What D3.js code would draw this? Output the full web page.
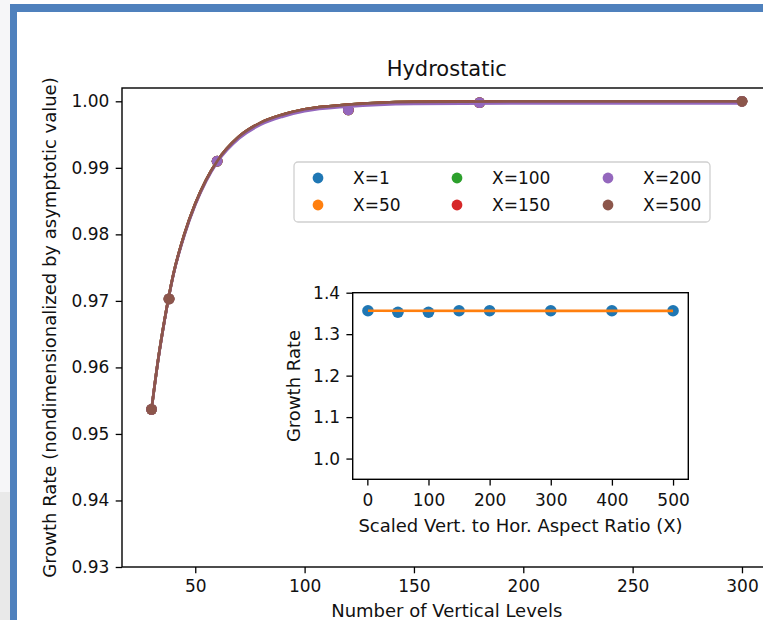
<!DOCTYPE html>
<html>
<head>
  <meta charset='utf-8'>
  <script src='https://cdn.jsdelivr.net/npm/d3@7/dist/d3.min.js'></script>
  <style>
    body { margin: 0; background: #fff; }
    text { font-family: 'DejaVu Sans', sans-serif; fill: #111; }
  </style>
</head>
<body>
<div id='chart'></div>
<script>
// main panel data
var seriesNames = ['X=1', 'X=50', 'X=100', 'X=150', 'X=200', 'X=500'];
var seriesColors = ['#1f77b4', '#ff7f0e', '#2ca02c', '#d62728', '#9467bd', '#8c564b'];
var levels = [30, 38, 60, 120, 180, 300];
var levelsX500 = [30, 38, 300];
var rateX1 = [0.9537, 0.9703, 0.9910, 0.9987, 0.9998, 1.0000];
var rateX50 = [0.9537, 0.9703, 0.9910, 0.9987, 0.9998, 1.0000];
var rateX100 = [0.9537, 0.9703, 0.9910, 0.9987, 0.9998, 1.0000];
var rateX150 = [0.9537, 0.9703, 0.9910, 0.9987, 0.9998, 1.0000];
var rateX200 = [0.9537, 0.9703, 0.9910, 0.9987, 0.9998, 1.0000];
var rateX500 = [0.9537, 0.9703, 1.0000];

// fitted curves
var fitLevels = [30, 33, 36, 40, 45, 50, 55, 60, 70, 80, 90, 100, 120, 150, 200, 300];
var fitMain = [0.9537, 0.9611, 0.9672, 0.9740, 0.9800, 0.9846, 0.9882, 0.9910, 0.9947, 0.9968, 0.9980, 0.9988, 0.9995, 0.9999, 1.0000, 1.0000];
var fitX200 = [0.9537, 0.9610, 0.9671, 0.9739, 0.9798, 0.9844, 0.9880, 0.9908, 0.9944, 0.9965, 0.9977, 0.9985, 0.9992, 0.9996, 0.9997, 0.9997];

var xTicks = [50, 100, 150, 200, 250, 300];
var yTicks = [0.93, 0.94, 0.95, 0.96, 0.97, 0.98, 0.99, 1.00];

// inset data
var aspect = [1, 50, 100, 150, 200, 300, 400, 500];
var insetRate = [1.3565, 1.3528, 1.3528, 1.3565, 1.3565, 1.3565, 1.3565, 1.3565];
var insetFitX = [1, 500];
var insetFitRate = [1.3565, 1.3562];
var insetXTicks = [0, 100, 200, 300, 400, 500];
var insetYTicks = [1.0, 1.1, 1.2, 1.3, 1.4];

var W = 763, H = 620;
var svg = d3.select('#chart').append('svg')
  .attr('width', W).attr('height', H);

// page frame around the figure
svg.append('rect').attr('x', 0).attr('y', 0).attr('width', 10).attr('height', H).attr('fill', '#f6f6f8');
svg.append('rect').attr('x', 0).attr('y', 492).attr('width', 10).attr('height', H - 492).attr('fill', '#e9e9e9');
svg.append('rect').attr('x', 10).attr('y', 4).attr('width', 7).attr('height', H - 4).attr('fill', '#4f81bd');
svg.append('rect').attr('x', 10).attr('y', 4).attr('width', W - 10).attr('height', 8).attr('fill', '#4f81bd');

var fs = 17;
var lw = 2.7, rad = 5.4, tickLen = 6.3, pad = 6.3;

// ---- main axes
var m = { left: 122, top: 88, right: 771.5, bottom: 567 };
var x = d3.scaleLinear().domain([16.5, 313.5]).range([m.left, m.right]);
var y = d3.scaleLinear().domain([0.93, 1.002]).range([m.bottom, m.top]);

var main = svg.append('g');

function styleAxis(g) {
  g.selectAll('.domain').remove();
  g.selectAll('.tick line').attr('stroke', '#000').attr('stroke-width', 1.3);
  g.selectAll('.tick text').style('font-size', fs + 'px').attr('fill', '#111');
}

main.append('g')
  .attr('transform', 'translate(0,' + m.bottom + ')')
  .call(d3.axisBottom(x).tickValues(xTicks).tickSize(tickLen).tickPadding(pad).tickFormat(d3.format('d')))
  .call(styleAxis);

main.append('g')
  .attr('transform', 'translate(' + m.left + ',0)')
  .call(d3.axisLeft(y).tickValues(yTicks).tickSize(tickLen).tickPadding(pad).tickFormat(d3.format('.2f')))
  .call(styleAxis);

var line = d3.line()
  .x(function(d) { return x(d[0]); })
  .y(function(d) { return y(d[1]); })
  .curve(d3.curveMonotoneX);

var pointSets = [
  [levels, rateX1], [levels, rateX50], [levels, rateX100],
  [levels, rateX150], [levels, rateX200], [levelsX500, rateX500]
];
var fitSets = [fitMain, fitMain, fitMain, fitMain, fitX200, fitMain];

seriesNames.forEach(function(name, i) {
  var pts = pointSets[i][0].map(function(n, j) { return [n, pointSets[i][1][j]]; });
  main.append('g').selectAll('circle')
    .data(pts)
    .enter()
    .append('circle')
    .attr('cx', function(d) { return x(d[0]); })
    .attr('cy', function(d) { return y(d[1]); })
    .attr('r', rad)
    .attr('fill', seriesColors[i]);

  var fit = fitLevels.map(function(n, j) { return [n, fitSets[i][j]]; });
  main.append('path')
    .datum(fit)
    .attr('d', line)
    .attr('fill', 'none')
    .attr('stroke', seriesColors[i])
    .attr('stroke-width', lw);
});

// spines
main.append('rect')
  .attr('x', m.left).attr('y', m.top)
  .attr('width', m.right - m.left).attr('height', m.bottom - m.top)
  .attr('fill', 'none').attr('stroke', '#000').attr('stroke-width', 1.4);

main.append('text')
  .attr('x', (m.left + m.right) / 2).attr('y', 76)
  .attr('text-anchor', 'middle').style('font-size', '21px')
  .text('Hydrostatic');

main.append('text')
  .attr('x', (m.left + m.right) / 2).attr('y', 617)
  .attr('text-anchor', 'middle').style('font-size', '18px')
  .text('Number of Vertical Levels');

main.append('text')
  .attr('transform', 'translate(56,' + ((m.top + m.bottom) / 2) + ') rotate(-90)')
  .attr('text-anchor', 'middle').style('font-size', '18px')
  .text('Growth Rate (nondimensionalized by asymptotic value)');

// ---- legend
var leg = svg.append('g');
leg.append('rect')
  .attr('x', 294).attr('y', 162).attr('width', 416).attr('height', 60)
  .attr('rx', 4).attr('fill', '#fff').attr('fill-opacity', 0.8)
  .attr('stroke', '#d0d0d0').attr('stroke-width', 1.3);

var colX = [318, 457, 608];
var rowY = [178, 205];
seriesNames.forEach(function(name, i) {
  var cx = colX[Math.floor(i / 2)], cy = rowY[i % 2];
  leg.append('circle').attr('cx', cx).attr('cy', cy).attr('r', rad).attr('fill', seriesColors[i]);
  leg.append('text').attr('x', cx + 35).attr('y', cy + 6)
    .style('font-size', fs + 'px').text(name);
});

// ---- inset axes
var im = { left: 352.7, top: 292.7, right: 688.3, bottom: 479.3 };
var ix = d3.scaleLinear().domain([-23.95, 524.95]).range([im.left, im.right]);
var iy = d3.scaleLinear().domain([0.95, 1.4]).range([im.bottom, im.top]);

var inset = svg.append('g');
inset.append('rect')
  .attr('x', im.left).attr('y', im.top)
  .attr('width', im.right - im.left).attr('height', im.bottom - im.top)
  .attr('fill', '#fff');

inset.append('g')
  .attr('transform', 'translate(0,' + im.bottom + ')')
  .call(d3.axisBottom(ix).tickValues(insetXTicks).tickSize(tickLen).tickPadding(pad + 2).tickFormat(d3.format('d')))
  .call(styleAxis);

inset.append('g')
  .attr('transform', 'translate(' + im.left + ',0)')
  .call(d3.axisLeft(iy).tickValues(insetYTicks).tickSize(tickLen).tickPadding(pad).tickFormat(d3.format('.1f')))
  .call(styleAxis);

inset.append('g').selectAll('circle')
  .data(aspect)
  .enter()
  .append('circle')
  .attr('cx', function(d) { return ix(d); })
  .attr('cy', function(d, i) { return iy(insetRate[i]); })
  .attr('r', 5.8)
  .attr('fill', '#1f77b4');

inset.append('path')
  .datum(insetFitX.map(function(v, i) { return [v, insetFitRate[i]]; }))
  .attr('d', d3.line().x(function(d) { return ix(d[0]); }).y(function(d) { return iy(d[1]); }))
  .attr('fill', 'none').attr('stroke', '#ff7f0e').attr('stroke-width', lw);

inset.append('rect')
  .attr('x', im.left).attr('y', im.top)
  .attr('width', im.right - im.left).attr('height', im.bottom - im.top)
  .attr('fill', 'none').attr('stroke', '#000').attr('stroke-width', 1.4);

inset.append('text')
  .attr('x', (im.left + im.right) / 2).attr('y', 532)
  .attr('text-anchor', 'middle').style('font-size', '18px')
  .text('Scaled Vert. to Hor. Aspect Ratio (X)');

inset.append('text')
  .attr('transform', 'translate(300,' + ((im.top + im.bottom) / 2) + ') rotate(-90)')
  .attr('text-anchor', 'middle').style('font-size', '18px')
  .text('Growth Rate');
</script>
</body>
</html>
